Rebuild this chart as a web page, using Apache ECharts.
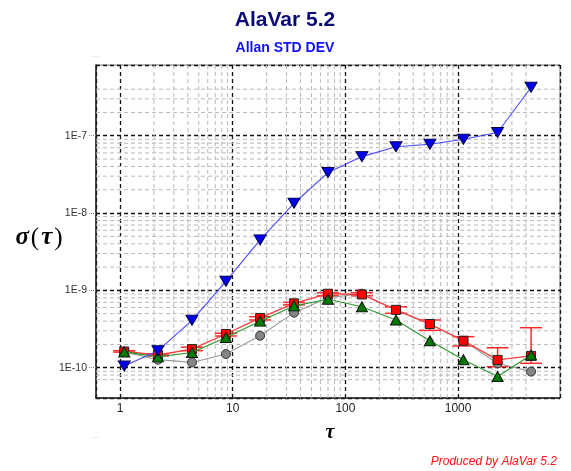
<!DOCTYPE html>
<html><head><meta charset="utf-8">
<script src="https://cdn.jsdelivr.net/npm/echarts@6/dist/echarts.min.js"></script>
<style>html,body{margin:0;padding:0;background:#fff}#c{width:571px;height:471px}</style>
</head><body><div id="c"></div>
<script>
// ---- data ----
const tau = [1.09, 2.17, 4.35, 8.7, 17.5, 35, 70, 140, 281, 562, 1115, 2240, 4440];
const blueDev  = [1.05e-10, 1.66e-10, 4.1e-10, 1.31e-9, 4.5e-9, 1.34e-8, 3.34e-8, 5.37e-8, 7.2e-8, 7.75e-8, 9.0e-8, 1.10e-7, 4.24e-7];
const redDev   = [1.62e-10, 1.46e-10, 1.74e-10, 2.73e-10, 4.4e-10, 6.8e-10, 9.05e-10, 8.85e-10, 5.6e-10, 3.67e-10, 2.23e-10, 1.26e-10, 1.42e-10];
const redLow   = [1.59e-10, 1.42e-10, 1.66e-10, 2.57e-10, 4.14e-10, 6.5e-10, 8.5e-10, 8.5e-10, 5.05e-10, 3.04e-10, 1.91e-10, 1.03e-10, 1.14e-10];
const redHigh  = [1.66e-10, 1.50e-10, 1.84e-10, 2.79e-10, 4.56e-10, 7.0e-10, 9.3e-10, 9.3e-10, 6.15e-10, 4.14e-10, 2.52e-10, 1.81e-10, 3.29e-10];
const greenDev = [1.6e-10, 1.38e-10, 1.57e-10, 2.46e-10, 4.0e-10, 6.3e-10, 7.67e-10, 6.15e-10, 4.14e-10, 2.23e-10, 1.27e-10, 7.7e-11, 1.46e-10];
const grayDev  = [1.6e-10, 1.27e-10, 1.17e-10, 1.5e-10, 2.59e-10, 5.15e-10, 8.05e-10, 9.05e-10, 5.57e-10, 3.67e-10, 2.23e-10, 1.14e-10, 8.9e-11];
const xTickLabels = ['1', '10', '100', '1000'];
const yTickLabels = ['1E-10', '1E-9', '1E-8', '1E-7'];
const xMinorGrid = [2,3,4,5,6,7,8,9, 20,30,40,50,60,70,80,90, 200,300,400,500,600,700,800,900, 2000,3000,4000];
const yMinorGrid = [7e-11,8e-11,9e-11, 2e-10,3e-10,4e-10,5e-10,6e-10,7e-10,8e-10,9e-10,
  2e-9,3e-9,4e-9,5e-9,6e-9,7e-9,8e-9,9e-9, 2e-8,3e-8,4e-8,5e-8,6e-8,7e-8,8e-8,9e-8, 2e-7,3e-7,4e-7];

const chart = echarts.init(document.getElementById('c'), null, {renderer: 'canvas'});
const pts = arr => tau.map((t, i) => [t, arr[i]]);
const FONT = '"Liberation Sans", Arial, sans-serif';

function labelFromLog(list, v) {
  const e = Math.round(Math.log10(v));
  const m = list.find(s => Math.round(Math.log10(Number(s.replace('E', 'e')))) === e);
  return m || '';
}

const minorStyle = { stroke: '#b9b9b9', lineWidth: 1, lineDash: [4, 3] };

const option = {
  animation: false,
  backgroundColor: '#fff',
  grid: { left: 96, right: 11, top: 65, bottom: 73, show: true, borderColor: '#777', borderWidth: 1 },
  xAxis: {
    type: 'log', logBase: 10, min: 0.612, max: 8020,
    axisLine: { show: true, lineStyle: { color: '#222', width: 1.5 } },
    axisTick: { show: false },
    axisLabel: { showMinLabel: false, showMaxLabel: false, margin: 5, color: '#222', fontSize: 12, fontFamily: FONT,
      formatter: v => labelFromLog(xTickLabels, v) },
    splitLine: { show: true, lineStyle: { color: '#111', type: [4, 3], width: 1.3 } }
  },
  yAxis: {
    type: 'log', logBase: 10, min: 10 ** -10.392, max: 10 ** -6.085,
    axisLine: { show: true, lineStyle: { color: '#222', width: 1.5 } },
    axisTick: { show: true, length: 8, lineStyle: { color: '#888', type: [1, 1], width: 1 } },
    axisLabel: { showMinLabel: false, showMaxLabel: false, margin: 9, color: '#333', fontSize: 10.5, fontFamily: FONT,
      formatter: v => labelFromLog(yTickLabels, v) },
    splitLine: { show: true, lineStyle: { color: '#111', type: [4, 3], width: 1.3 } }
  },
  series: [
    { type: 'custom', z: 1, silent: true,
      renderItem: (params, api) => {
        const cs = params.coordSys;
        const px = api.coord([api.value(0), 1e-9])[0];
        return { type: 'line', shape: { x1: px, y1: cs.y, x2: px, y2: cs.y + cs.height }, style: minorStyle };
      },
      encode: { x: 0, y: 1 },
      data: xMinorGrid.map(v => [v, 1e-9]) },
    { type: 'custom', z: 1, silent: true,
      renderItem: (params, api) => {
        const cs = params.coordSys;
        const py = api.coord([10, api.value(1)])[1];
        return { type: 'line', shape: { x1: cs.x, y1: py, x2: cs.x + cs.width, y2: py }, style: minorStyle };
      },
      encode: { x: 0, y: 1 },
      data: yMinorGrid.map(v => [10, v]) },
    { type: 'custom', z: 3, silent: true,
      renderItem: (params, api) => {
        const x = api.value(0);
        const lo = api.coord([x, api.value(1)]);
        const hi = api.coord([x, api.value(2)]);
        const w = 11;
        const st = { stroke: '#ff2a2a', lineWidth: 1.5 };
        return { type: 'group', children: [
          { type: 'line', shape: { x1: lo[0], y1: lo[1], x2: hi[0], y2: hi[1] }, style: st },
          { type: 'line', shape: { x1: lo[0] - w, y1: lo[1], x2: lo[0] + w, y2: lo[1] }, style: st },
          { type: 'line', shape: { x1: hi[0] - w, y1: hi[1], x2: hi[0] + w, y2: hi[1] }, style: st }
        ] };
      },
      encode: { x: 0, y: [1, 2] },
      data: tau.map((t, i) => [t, redLow[i], redHigh[i]]) },
    { type: 'line', name: 'gray', z: 4, data: pts(grayDev), symbol: 'circle', symbolSize: 9,
      lineStyle: { color: '#999', width: 1.1 },
      itemStyle: { color: '#858585', borderColor: '#333', borderWidth: 1 } },
    { type: 'line', name: 'red', z: 5, data: pts(redDev), symbol: 'rect', symbolSize: 9,
      lineStyle: { color: '#ff3a3a', width: 1.3 },
      itemStyle: { color: '#ff0000', borderColor: '#222', borderWidth: 1 } },
    { type: 'line', name: 'green', z: 6, data: pts(greenDev), symbol: 'triangle', symbolSize: [11, 10],
      lineStyle: { color: '#2e9a2e', width: 1.1 },
      itemStyle: { color: '#007a00', borderColor: '#111', borderWidth: 1 } },
    { type: 'line', name: 'blue', z: 7, data: pts(blueDev), symbol: 'triangle', symbolRotate: 180, symbolSize: [12, 10],
      lineStyle: { color: '#4848ff', width: 1.1 },
      itemStyle: { color: '#0000f0', borderColor: '#000050', borderWidth: 1 } }
  ],
  graphic: [
    { type: 'text', x: 285, y: 20, style: { text: 'AlaVar 5.2', fill: '#0a0a78', font: 'bold 21px ' + FONT, textAlign: 'center', textVerticalAlign: 'middle' } },
    { type: 'text', x: 285, y: 48, style: { text: 'Allan STD DEV', fill: '#1010ff', font: 'bold 14px ' + FONT, textAlign: 'center', textVerticalAlign: 'middle' } },
    { type: 'text', x: 38, y: 238, style: {
        text: '{a|σ}{b|(}{a|τ}{b|)}', textAlign: 'center', textVerticalAlign: 'middle',
        rich: { a: { fontFamily: '"Liberation Serif", serif', fontStyle: 'italic', fontWeight: 'bold', fontSize: 25, fill: '#000', padding: [0, 2, 0, 2] },
                b: { fontFamily: '"Liberation Serif", serif', fontSize: 25, fill: '#000' } } } },
    { type: 'text', x: 330, y: 433, style: { text: 'τ', fill: '#000', font: 'italic bold 20px "Liberation Serif", serif', textAlign: 'center', textVerticalAlign: 'middle' } },
    { type: 'text', x: 557, y: 462, style: { text: 'Produced by AlaVar 5.2', fill: '#ff1010', font: 'italic 12px ' + FONT, textAlign: 'right', textVerticalAlign: 'middle' } },
    { type: 'text', x: 95, y: 56, style: { text: '····', fill: '#999', font: '6px ' + FONT, textAlign: 'center', textVerticalAlign: 'middle' } },
    { type: 'text', x: 95, y: 437, style: { text: '····', fill: '#999', font: '6px ' + FONT, textAlign: 'center', textVerticalAlign: 'middle' } }
  ]
};
chart.setOption(option);
</script>
</body></html>
